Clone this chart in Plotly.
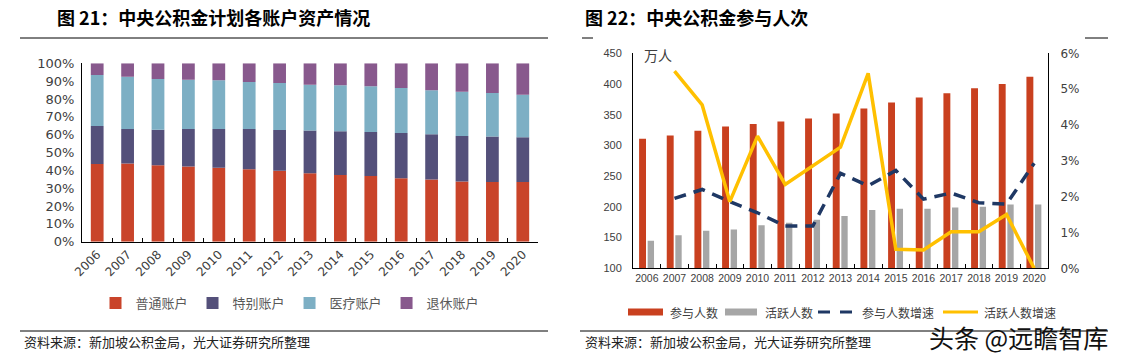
import plotly.graph_objects as go

years = [str(y) for y in range(2006, 2021)]

# Figure 21: account shares (%)
share_ordinary = [43.6, 43.9, 42.8, 42.1, 41.5, 40.6, 39.8, 38.3, 37.4, 36.8, 35.5, 34.8, 33.8, 33.5, 33.5]
share_special = [21.3, 19.3, 20.0, 21.1, 21.7, 22.6, 22.8, 24.1, 24.5, 24.7, 25.4, 25.4, 25.5, 25.4, 25.0]
share_medisave = [28.6, 29.3, 28.4, 27.6, 27.3, 26.3, 26.4, 25.6, 25.8, 25.6, 25.3, 24.7, 24.8, 24.5, 23.9]
share_retire = [6.5, 7.5, 8.8, 9.2, 9.5, 10.5, 11.0, 12.0, 12.3, 12.9, 13.8, 15.1, 15.9, 16.6, 17.6]
share_names = ["普通账户", "特别账户", "医疗账户", "退休账户"]

# Figure 22: members (10k persons) and growth (%)
members = [311, 316, 324, 331, 335, 339, 344, 352, 360, 370, 378, 385, 393, 400, 412]
active = [145, 154, 161, 163, 170, 174, 179, 185, 195, 197, 197, 199, 200, 204, 204]
members_growth = [None, 1.95, 2.2, 1.86, 1.55, 1.18, 1.18, 2.65, 2.3, 2.73, 1.93, 2.1, 1.83, 1.79, 2.93]
active_growth = [None, 5.5, 4.56, 1.86, 3.69, 2.34, 2.85, 3.38, 5.44, 0.53, 0.51, 1.02, 1.02, 1.5, 0.0]
right_names = ["参与人数", "活跃人数", "参与人数增速", "活跃人数增速"]

FIG_W, FIG_H = 1123, 358
def px(x):
    return x / FIG_W
def py(y):
    return 1 - y / FIG_H

CJK = "Noto Sans CJK SC"
share_colors = ["#C9442A", "#54507A", "#7DAFC4", "#88598D"]
right_colors = ["#C9401F", "#A6A6A6", "#1F3864", "#FFC000"]

fig = go.Figure()

# stacked bars (manual base so the right panel can stay grouped)
series = [share_ordinary, share_special, share_medisave, share_retire]
base = [0.0] * len(years)
for name, vals, col in zip(share_names, series, share_colors):
    fig.add_trace(go.Bar(
        x=years, y=[v / 100 for v in vals], base=[b / 100 for b in base],
        name=name, marker_color=col, marker_line_width=0,
        width=0.42, offset=-0.21, xaxis="x", yaxis="y", legend="legend",
    ))
    base = [b + v for b, v in zip(base, vals)]

fig.add_trace(go.Bar(
    x=years, y=members, name=right_names[0], marker_color=right_colors[0], marker_line_width=0,
    width=0.25, offset=-0.28, xaxis="x2", yaxis="y2", showlegend=False,
))
fig.add_trace(go.Bar(
    x=years, y=active, name=right_names[1], marker_color=right_colors[1], marker_line_width=0,
    width=0.23, offset=0.03, xaxis="x2", yaxis="y2", showlegend=False,
))
fig.add_trace(go.Scatter(
    x=years, y=[None if v is None else v / 100 for v in members_growth], name=right_names[2],
    mode="lines", line=dict(color=right_colors[2], width=3.5, dash="12px,8px"),
    xaxis="x2", yaxis="y3", showlegend=False, cliponaxis=False,
))
fig.add_trace(go.Scatter(
    x=years, y=[None if v is None else v / 100 for v in active_growth], name=right_names[3],
    mode="lines", line=dict(color=right_colors[3], width=3.5),
    xaxis="x2", yaxis="y3", showlegend=False, cliponaxis=False,
))

tickfont = dict(family="DejaVu Sans", size=12, color="#404040")
tickfont_r = dict(family="Liberation Sans", size=11, color="#404040")

fig.update_layout(
    width=FIG_W, height=FIG_H, autosize=False,
    margin=dict(l=0, r=0, t=0, b=0, autoexpand=False),
    paper_bgcolor="white", plot_bgcolor="white",
    barmode="overlay",
    showlegend=True,
    xaxis=dict(domain=[px(82), px(538)], type="category", tickangle=-45, automargin=False,
               showline=True, linecolor="#000000", linewidth=1,
               ticks="inside", tickson="boundaries", ticklen=4, tickcolor="#000000",
               tickfont=tickfont, showgrid=False, anchor="y"),
    yaxis=dict(domain=[py(241.7), py(63.3)], range=[0, 1], dtick=0.1, tickformat=".0%",
               automargin=False,
               showline=True, linecolor="#000000", linewidth=1, showgrid=False,
               tickfont=dict(family="DejaVu Sans", size=13, color="#404040"),
               zeroline=False, anchor="x", ticklabelstandoff=4),
    xaxis2=dict(domain=[px(633), px(1048)], type="category", automargin=False,
                showline=True, linecolor="#000000", linewidth=1,
                ticks="inside", tickson="boundaries", ticklen=4, tickcolor="#000000",
                tickfont=dict(family="Liberation Sans", size=10.5, color="#404040"),
                showgrid=False, anchor="y2", tickangle=0),
    yaxis2=dict(domain=[py(268.3), py(53.3)], range=[100, 450], dtick=50, automargin=False,
                showline=True, linecolor="#000000", linewidth=1, showgrid=False,
                tickfont=tickfont_r, zeroline=False, anchor="x2", ticklabelstandoff=8),
    yaxis3=dict(domain=[py(268.3), py(53.3)], range=[0, 0.06], dtick=0.01, tickformat=".0%",
                overlaying="y2", side="right", anchor="x2", automargin=False,
                showline=True, linecolor="#000000", linewidth=1, showgrid=False,
                tickfont=dict(family="DejaVu Sans", size=12, color="#404040"),
                zeroline=False, ticklabelstandoff=9),
    legend=dict(orientation="h", x=px(290), xanchor="center", y=py(303), yanchor="middle",
                font=dict(family=CJK, size=13, color="#595959"), itemwidth=30,
                bgcolor="rgba(0,0,0,0)", traceorder="normal"),
)

shapes = []
line_col = "#000000"
def hline(x0, x1, y):
    shapes.append(dict(type="line", xref="paper", yref="paper", x0=px(x0), x1=px(x1), y0=py(y), y1=py(y),
                       line=dict(color=line_col, width=1)))
# panel rules
hline(20, 548, 38)
hline(20, 548, 331)
hline(582, 593, 38)
hline(1085, 1108, 38)
hline(580, 1108, 331)

# manual legend for right panel (wide swatches as in the reference)
leg_y = 312
swatch = [(628, 663), (725, 757), (818, 855), (943, 978)]
text_x = [668, 763, 860, 982]
shapes.append(dict(type="rect", xref="paper", yref="paper", x0=px(swatch[0][0]), x1=px(swatch[0][1]),
                   y0=py(leg_y + 3.5), y1=py(leg_y - 3.5), fillcolor=right_colors[0], line_width=0))
shapes.append(dict(type="rect", xref="paper", yref="paper", x0=px(swatch[1][0]), x1=px(swatch[1][1]),
                   y0=py(leg_y + 3.5), y1=py(leg_y - 3.5), fillcolor=right_colors[1], line_width=0))
shapes.append(dict(type="line", xref="paper", yref="paper", x0=px(swatch[2][0]), x1=px(swatch[2][1]),
                   y0=py(leg_y), y1=py(leg_y), line=dict(color=right_colors[2], width=3, dash="12px,10px")))
shapes.append(dict(type="line", xref="paper", yref="paper", x0=px(swatch[3][0]), x1=px(swatch[3][1]),
                   y0=py(leg_y), y1=py(leg_y), line=dict(color=right_colors[3], width=3)))
fig.update_layout(shapes=shapes)

ann = []
def text(t, x, y, size, color, anchor="left", family=CJK):
    ann.append(dict(text=t, x=px(x), y=py(y), xref="paper", yref="paper",
                    xanchor=anchor, yanchor="middle", showarrow=False,
                    font=dict(family=family, size=size, color=color)))

text("<b>图 21：中央公积金计划各账户资产情况</b>", 55, 17, 18, "#000000")
text("<b>图 22：中央公积金参与人次</b>", 583, 17, 18, "#000000")
text("资料来源：新加坡公积金局，光大证券研究所整理", 22, 341, 13, "#222222")
text("资料来源：新加坡公积金局，光大证券研究所整理", 583, 341, 13, "#222222")
text("万人", 642, 55, 14, "#404040")
for name, x in zip(right_names, text_x):
    text(name, x, leg_y, 12, "#404040")
text("头条 @远瞻智库", 1110, 337, 25, "#111111", anchor="right")
fig.update_layout(annotations=ann)

fig.write_html("out.html", config={"displayModeBar": False},
               post_script="document.body.style.margin='0';document.body.style.overflow='hidden';")
